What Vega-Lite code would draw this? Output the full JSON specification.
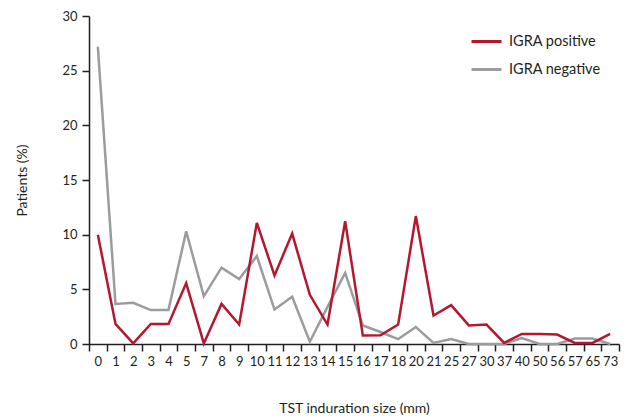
{
  "$schema": "https://vega.github.io/schema/vega-lite/v6.json",
  "width": 530,
  "height": 328,
  "autosize": {"type": "none"},
  "padding": {"left": 89, "top": 16, "right": 9, "bottom": 75},
  "background": "white",
  "data": {
    "values": [
      {"mm": 0, "IGRA positive": 10.0, "IGRA negative": 27.2},
      {"mm": 1, "IGRA positive": 1.84, "IGRA negative": 3.67},
      {"mm": 2, "IGRA positive": 0.05, "IGRA negative": 3.77},
      {"mm": 3, "IGRA positive": 1.84, "IGRA negative": 3.1},
      {"mm": 4, "IGRA positive": 1.84, "IGRA negative": 3.12},
      {"mm": 5, "IGRA positive": 5.57, "IGRA negative": 10.3},
      {"mm": 7, "IGRA positive": 0.05, "IGRA negative": 4.38},
      {"mm": 8, "IGRA positive": 3.67, "IGRA negative": 6.98},
      {"mm": 9, "IGRA positive": 1.78, "IGRA negative": 5.94},
      {"mm": 10, "IGRA positive": 11.08, "IGRA negative": 8.05},
      {"mm": 11, "IGRA positive": 6.27, "IGRA negative": 3.15},
      {"mm": 12, "IGRA positive": 10.1, "IGRA negative": 4.32},
      {"mm": 13, "IGRA positive": 4.5, "IGRA negative": 0.2},
      {"mm": 14, "IGRA positive": 1.78, "IGRA negative": 3.4},
      {"mm": 15, "IGRA positive": 11.23, "IGRA negative": 6.5},
      {"mm": 16, "IGRA positive": 0.77, "IGRA negative": 1.7},
      {"mm": 17, "IGRA positive": 0.8, "IGRA negative": 1.1},
      {"mm": 18, "IGRA positive": 1.78, "IGRA negative": 0.45},
      {"mm": 20, "IGRA positive": 11.7, "IGRA negative": 1.55},
      {"mm": 21, "IGRA positive": 2.6, "IGRA negative": 0.1},
      {"mm": 25, "IGRA positive": 3.55, "IGRA negative": 0.45},
      {"mm": 27, "IGRA positive": 1.7, "IGRA negative": 0.0},
      {"mm": 30, "IGRA positive": 1.78, "IGRA negative": 0.0},
      {"mm": 37, "IGRA positive": 0.1, "IGRA negative": 0.0},
      {"mm": 40, "IGRA positive": 0.92, "IGRA negative": 0.55},
      {"mm": 50, "IGRA positive": 0.92, "IGRA negative": 0.0},
      {"mm": 56, "IGRA positive": 0.86, "IGRA negative": 0.0},
      {"mm": 57, "IGRA positive": 0.1, "IGRA negative": 0.5},
      {"mm": 65, "IGRA positive": 0.1, "IGRA negative": 0.5},
      {"mm": 73, "IGRA positive": 0.92, "IGRA negative": 0.0}
    ]
  },
  "transform": [
    {"fold": ["IGRA negative", "IGRA positive"], "as": ["group", "pct"]}
  ],
  "mark": {"type": "line", "strokeWidth": 2.5, "strokeJoin": "miter"},
  "encoding": {
    "x": {
      "field": "mm",
      "type": "ordinal",
      "bandPosition": 0.5,
      "scale": {"type": "band", "paddingInner": 0, "paddingOuter": 0},
      "axis": {
        "title": "TST induration size (mm)",
        "labelAngle": 0,
        "tickBand": "extent",
        "tickSize": 7,
        "labelPadding": 4,
        "titlePadding": 33,
        "domainColor": "#231f20",
        "tickColor": "#231f20",
        "domainWidth": 1.5,
        "tickWidth": 1.5
      }
    },
    "y": {
      "field": "pct",
      "type": "quantitative",
      "scale": {"domain": [0, 30], "nice": false},
      "axis": {
        "title": "Patients (%)",
        "values": [0, 5, 10, 15, 20, 25, 30],
        "grid": false,
        "tickSize": 7,
        "labelPadding": 5,
        "titlePadding": 32,
        "domainColor": "#231f20",
        "tickColor": "#231f20",
        "domainWidth": 1.5,
        "tickWidth": 1.5
      }
    },
    "color": {
      "field": "group",
      "type": "nominal",
      "scale": {"domain": ["IGRA positive", "IGRA negative"], "range": ["#b5172f", "#9b9c9e"]},
      "legend": {
        "title": null,
        "orient": "none",
        "legendX": 381,
        "legendY": 9,
        "symbolType": "stroke",
        "symbolSize": 900,
        "symbolStrokeWidth": 3,
        "labelFontSize": 14.5,
        "labelFont": "Lato",
        "labelColor": "#231f20",
        "labelOffset": 6,
        "rowPadding": 5
      }
    }
  },
  "config": {
    "view": {"stroke": null},
    "axis": {
      "labelFont": "Lato",
      "labelFontSize": 13,
      "labelColor": "#231f20",
      "titleFont": "Lato",
      "titleFontSize": 14,
      "titleFontWeight": "normal",
      "titleColor": "#231f20"
    }
  }
}
